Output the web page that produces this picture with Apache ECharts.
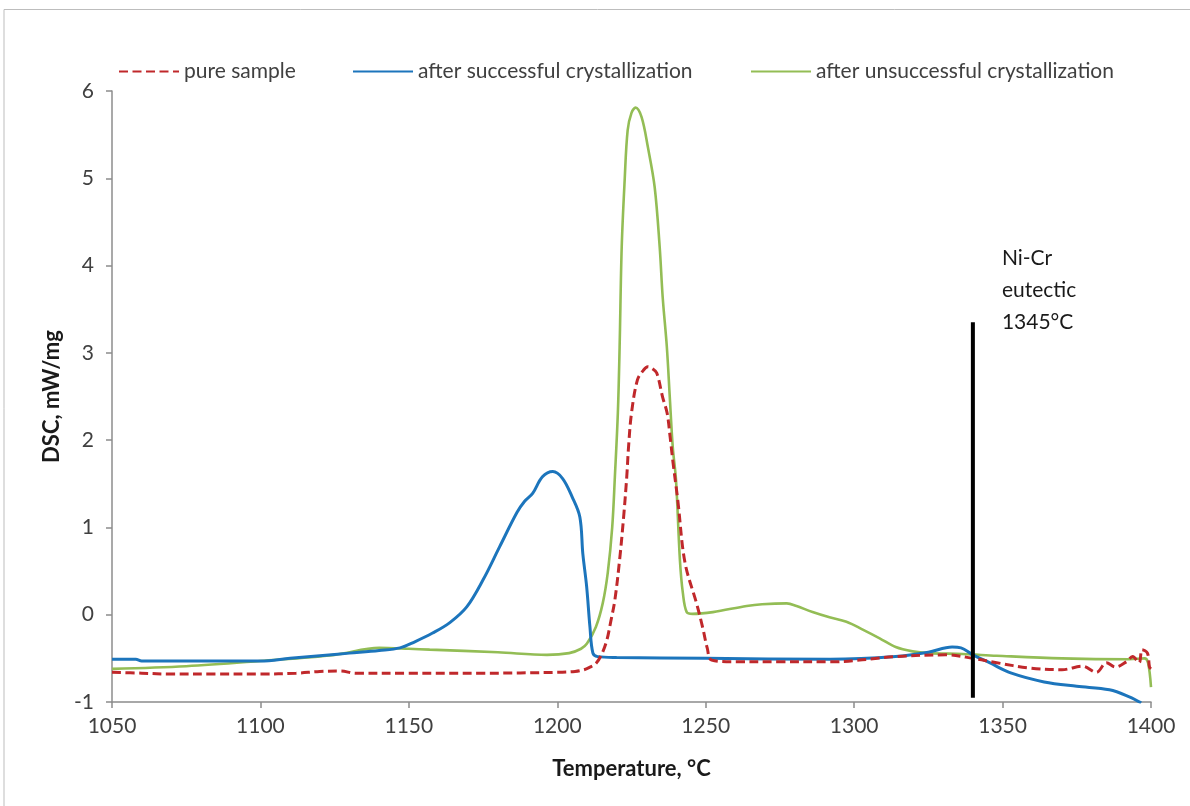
<!DOCTYPE html>
<html>
<head>
<meta charset="utf-8">
<title>DSC curves</title>
<script src="https://cdn.jsdelivr.net/npm/echarts@6/dist/echarts.min.js"></script>
<style>
  html, body { margin: 0; padding: 0; background: #ffffff; }
  #chart { width: 1190px; height: 806px; }
</style>
</head>
<body>
<div id="chart"></div>
<script>
// Temperature axis ticks and DSC axis range
const xTicks = { min: 1050, max: 1400, step: 50 };
const yTicks = { min: -1, max: 6, step: 1 };

const seriesNames = ['pure sample', 'after successful crystallization', 'after unsuccessful crystallization'];

// pure sample
const tempPure = [1050, 1060, 1070, 1085, 1100, 1112, 1120, 1127, 1132, 1150, 1175, 1200, 1206, 1209, 1211, 1213, 1215, 1216.7, 1218, 1219.4, 1221, 1222.3, 1223.4, 1224, 1225, 1227, 1229, 1230.5, 1232, 1233.5, 1235.5, 1237, 1238, 1239, 1240.6, 1243, 1247, 1249, 1250.5, 1252, 1260, 1275, 1292, 1314, 1331, 1340, 1348, 1359, 1370, 1377, 1381.6, 1385, 1388, 1391.7, 1393.8, 1396, 1397, 1398.8, 1399.5, 1400];
const dscPure  = [-0.66, -0.67, -0.68, -0.68, -0.68, -0.67, -0.65, -0.645, -0.67, -0.67, -0.67, -0.66, -0.65, -0.63, -0.6, -0.56, -0.45, -0.29, -0.08, 0.17, 0.63, 1.1, 1.58, 1.92, 2.31, 2.69, 2.8, 2.84, 2.82, 2.77, 2.49, 2.31, 2.04, 1.74, 1.31, 0.6, 0.12, -0.15, -0.38, -0.52, -0.54, -0.54, -0.54, -0.48, -0.46, -0.5, -0.55, -0.61, -0.63, -0.59, -0.66, -0.55, -0.6, -0.54, -0.48, -0.55, -0.4, -0.44, -0.6, -0.62];

// after successful crystallization
const tempSucc = [1050, 1058, 1060, 1080, 1100, 1110, 1120, 1130, 1140, 1147, 1152, 1158, 1163.8, 1169.5, 1175, 1180.6, 1186.4, 1189, 1191.7, 1195, 1198.5, 1201.8, 1205, 1207.6, 1208.6, 1209.9, 1211, 1212, 1213.6, 1220, 1250, 1292, 1314, 1325, 1333, 1336, 1340, 1345.6, 1353, 1364, 1375, 1386, 1392.7, 1396.7];
const dscSucc  = [-0.51, -0.51, -0.53, -0.53, -0.53, -0.5, -0.47, -0.44, -0.41, -0.38, -0.31, -0.21, -0.09, 0.09, 0.4, 0.78, 1.17, 1.3, 1.39, 1.58, 1.64, 1.56, 1.35, 1.12, 0.7, 0.32, -0.14, -0.44, -0.48, -0.49, -0.5, -0.51, -0.48, -0.43, -0.37, -0.38, -0.46, -0.55, -0.67, -0.77, -0.82, -0.86, -0.94, -1.01];

// after unsuccessful crystallization
const tempUnsucc = [1050, 1075, 1100, 1125, 1140, 1150, 1157, 1180, 1196.5, 1204, 1208, 1210, 1213, 1215.3, 1217, 1218.5, 1219.4, 1220.4, 1221, 1221.7, 1222.7, 1223.7, 1225, 1226.4, 1228.4, 1230.5, 1232.8, 1234.5, 1235.5, 1236.9, 1237.9, 1238.9, 1240, 1241.3, 1242.3, 1243.6, 1245.6, 1252.4, 1263.8, 1269, 1277.3, 1280.6, 1286, 1291.7, 1297.4, 1302.9, 1308.6, 1314, 1319.7, 1325, 1336.6, 1348, 1370, 1392.7, 1397.8, 1399, 1400];
const dscUnsucc  = [-0.62, -0.59, -0.53, -0.46, -0.38, -0.39, -0.4, -0.43, -0.46, -0.44, -0.39, -0.33, -0.14, 0.13, 0.48, 1.0, 1.58, 2.31, 3.07, 4.21, 4.98, 5.55, 5.75, 5.81, 5.7, 5.36, 4.9, 4.21, 3.64, 3.07, 2.49, 1.92, 1.54, 0.63, 0.25, 0.03, 0.01, 0.03, 0.1, 0.12, 0.13, 0.1, 0.03, -0.03, -0.08, -0.17, -0.27, -0.37, -0.42, -0.44, -0.45, -0.47, -0.5, -0.51, -0.5, -0.55, -0.83];

// Ni-Cr eutectic marker
const eutecticTemp = [1340, 1340];
const eutecticDsc = [-0.95, 3.35];
const eutecticText = ['Ni-Cr', 'eutectic', '1345°C'];

const colors = ['#c0282b', '#1c75bc', '#93bd55'];
const FONT = 'Lato';

const pairs = (xs, ys) => xs.map((x, i) => [x, ys[i]]);

const chart = echarts.init(document.getElementById('chart'), null, { renderer: 'canvas' });

const legendBase = {
  top: 56,
  itemWidth: 60,
  itemHeight: 14,
  itemStyle: { opacity: 0 },
  textStyle: { fontFamily: FONT, fontSize: 21, color: '#404040' }
};

const lineCommon = {
  type: 'line', showSymbol: false, symbol: 'none',
  smooth: 0.35
};

const option = {
  backgroundColor: '#ffffff',
  animation: false,
  textStyle: { fontFamily: FONT },
  legend: [
    Object.assign({}, legendBase, { left: 113, data: [seriesNames[0]] }),
    Object.assign({}, legendBase, { left: 347, data: [seriesNames[1]] }),
    Object.assign({}, legendBase, { left: 745, data: [seriesNames[2]] })
  ],
  grid: { left: 112, right: 39, top: 91, bottom: 104, containLabel: false },
  xAxis: {
    type: 'value',
    min: xTicks.min, max: xTicks.max, interval: xTicks.step,
    name: 'Temperature, °C',
    nameLocation: 'middle',
    nameGap: 56,
    nameTextStyle: { fontFamily: FONT, fontSize: 22, fontWeight: 'bold', color: '#1a1a1a' },
    axisLine: { show: true, onZero: false, lineStyle: { color: '#8c8c8c', width: 1.5 } },
    axisTick: { show: true, length: 6, lineStyle: { color: '#8c8c8c', width: 1.5 } },
    axisLabel: { fontFamily: FONT, fontSize: 21, color: '#404040', margin: 14, formatter: v => String(v) },
    splitLine: { show: false }
  },
  yAxis: {
    type: 'value',
    min: yTicks.min, max: yTicks.max, interval: yTicks.step,
    name: 'DSC, mW/mg',
    nameLocation: 'middle',
    nameGap: 47,
    nameTextStyle: { fontFamily: FONT, fontSize: 22, fontWeight: 'bold', color: '#1a1a1a' },
    axisLine: { show: true, onZero: false, lineStyle: { color: '#8c8c8c', width: 1.5 } },
    axisTick: { show: true, length: 6, lineStyle: { color: '#8c8c8c', width: 1.5 } },
    axisLabel: { fontFamily: FONT, fontSize: 21, color: '#404040', margin: 18, formatter: v => String(v) },
    splitLine: { show: false }
  },
  series: [
    Object.assign({}, lineCommon, {
      name: seriesNames[0], data: pairs(tempPure, dscPure),
      color: colors[0],
      lineStyle: { color: colors[0], width: 3, type: [9, 4.5] },
      z: 4
    }),
    Object.assign({}, lineCommon, {
      name: seriesNames[1], data: pairs(tempSucc, dscSucc),
      color: colors[1],
      lineStyle: { color: colors[1], width: 3 },
      z: 3
    }),
    Object.assign({}, lineCommon, {
      name: seriesNames[2], data: pairs(tempUnsucc, dscUnsucc),
      color: colors[2],
      lineStyle: { color: colors[2], width: 2.6 },
      z: 2
    }),
    {
      name: 'eutectic', type: 'line',
      data: pairs(eutecticTemp, eutecticDsc),
      showSymbol: false, symbol: 'none',
      lineStyle: { color: '#000000', width: 4 },
      z: 5, silent: true
    }
  ]
};

chart.setOption(option);

// Annotation text beside the top of the eutectic line, placed through the axis scales
const eutecticTop = chart.convertToPixel({ gridIndex: 0 }, [eutecticTemp[1], eutecticDsc[1]]);
chart.setOption({
  graphic: [
    {
      type: 'polyline',
      shape: { points: [[4, 820], [4, 9.5], [1200, 9.5]] },
      style: { stroke: '#bdbdbd', lineWidth: 1, fill: null },
      silent: true
    },
    {
      type: 'text',
      x: eutecticTop[0] + 29,
      y: eutecticTop[1] - 32,
      style: {
        text: eutecticText.join('\n'),
        fontFamily: FONT, fontSize: 21, lineHeight: 32,
        fill: '#1a1a1a',
        align: 'left',
        verticalAlign: 'middle'
      },
      silent: true
    }
  ]
});
</script>
</body>
</html>
